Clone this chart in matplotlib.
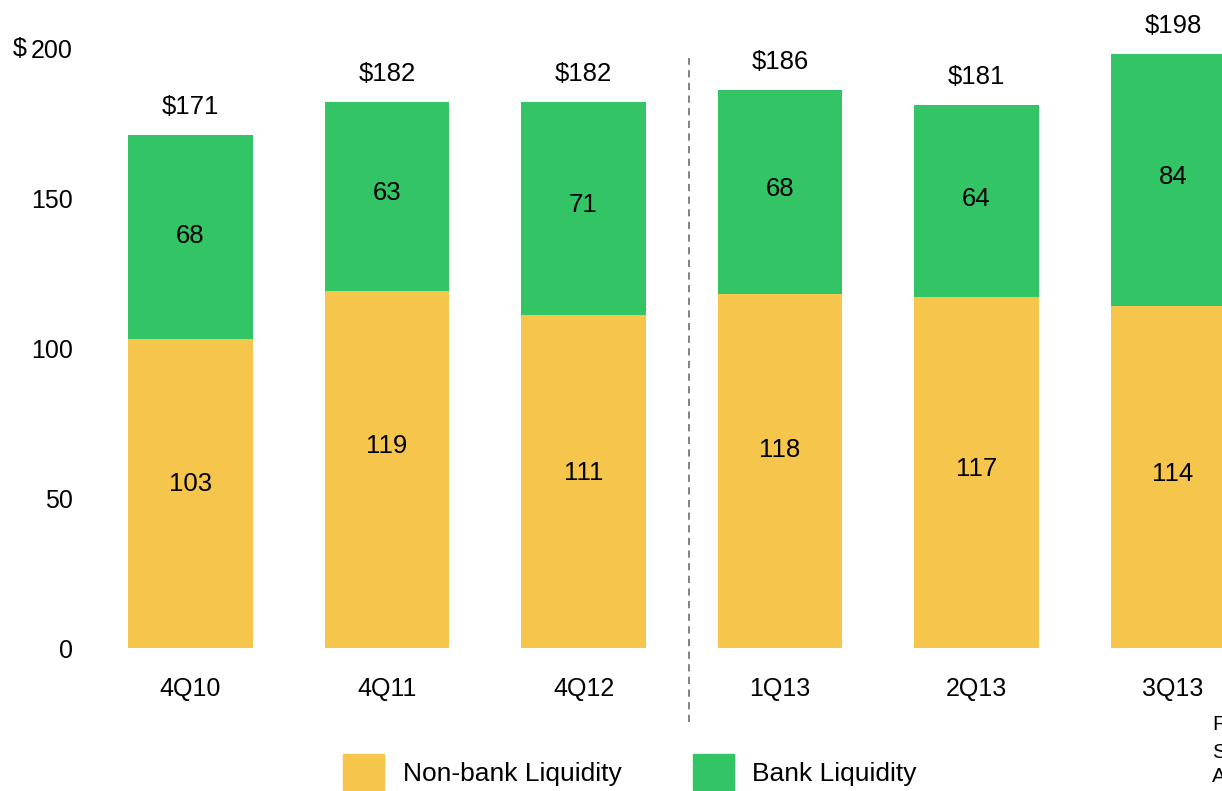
import matplotlib
matplotlib.use("Agg")
import matplotlib.pyplot as plt
from matplotlib.patches import Patch

plt.rcParams['font.family'] = ['Liberation Sans', 'DejaVu Sans']

quarters = ["4Q10", "4Q11", "4Q12", "1Q13", "2Q13", "3Q13"]
non_bank = [103, 119, 111, 118, 117, 114]
bank = [68, 63, 71, 68, 64, 84]
totals = [171, 182, 182, 186, 181, 198]
yticks = [0, 50, 100, 150, 200]
# label anchor heights (in data units), as placed in the original
non_bank_label_y = [54.7, 67.3, 58.3, 66.0, 59.7, 58.0]
bank_label_y = [137.3, 151.7, 147.7, 153.0, 149.7, 157.0]

yellow = "#F5C54C"
green = "#33C466"

W, H = 1222, 791
fig = plt.figure(figsize=(W / 100, H / 100), dpi=100)
ax = fig.add_axes([92.25 / W, (H - 648) / H, 1179 / W, 600 / H])

x = list(range(len(quarters)))
ax.bar(x, non_bank, width=0.636, color=yellow, label="Non-bank Liquidity")
ax.bar(x, bank, width=0.636, bottom=non_bank, color=green, label="Bank Liquidity")

fs = 18.5
tfs = 18
for i in x:
    ax.text(i, non_bank_label_y[i], str(non_bank[i]), ha="center", va="center", fontsize=fs)
    ax.text(i, bank_label_y[i], str(bank[i]), ha="center", va="center", fontsize=fs)
    ax.annotate(f"${totals[i]}", (i, totals[i]), xytext=(0, 20), textcoords="offset points",
                ha="center", va="center", fontsize=fs, annotation_clip=False)

ax.set_xlim(-0.5, 5.5)
ax.set_ylim(0, 200)
ax.set_xticks(x)
ax.set_xticklabels(quarters, fontsize=tfs)
ax.set_yticks(yticks)
ax.set_yticklabels([str(v) for v in yticks], fontsize=tfs)
ax.tick_params(axis="both", length=0)
ax.tick_params(axis="x", pad=21)
ax.tick_params(axis="y", pad=14)
for s in ax.spines.values():
    s.set_visible(False)

# dollar sign before the top tick label
ax.annotate("$", (0, 200), xycoords=("axes fraction", "data"), xytext=(-47.5, -1),
            textcoords="offset points", ha="right", va="center", fontsize=tfs, annotation_clip=False)

ax.plot([2.537, 2.537], [-24.7, 196.7], color="#777777", lw=1.3, ls=(0, (4, 3)), clip_on=False)

lfs = 19
handles = [Patch(color=yellow, label="Non-bank Liquidity"), Patch(color=green, label="Bank Liquidity")]
fig.legend(handles=handles, loc="center", bbox_to_anchor=(630 / W, (H - 772) / H), ncol=2,
           frameon=False, fontsize=lfs, handlelength=1.56, handleheight=1.7, handletextpad=0.7,
           columnspacing=2.7, borderpad=0, borderaxespad=0)

fig.text(1212 / W, (H - 725) / H, "F", fontsize=15, va="center", ha="left")
fig.text(1212 / W, (H - 752) / H, "S", fontsize=15, va="center", ha="left")
fig.text(1212 / W, (H - 776) / H, "A", fontsize=15, va="center", ha="left")

fig.savefig("out.png", dpi=100)
